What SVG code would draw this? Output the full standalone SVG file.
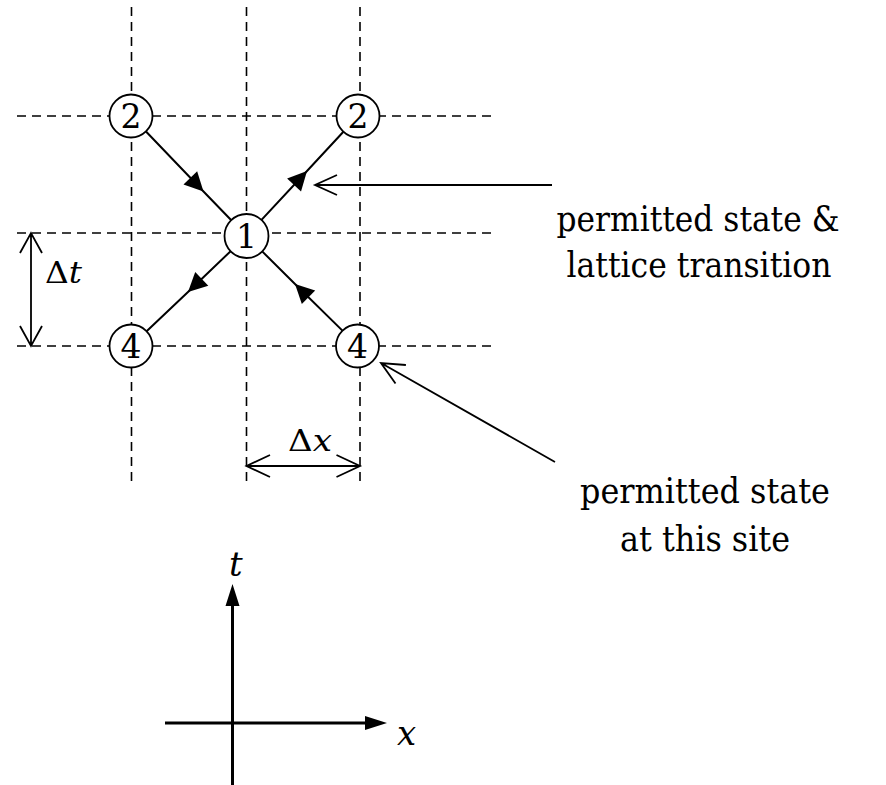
<svg xmlns="http://www.w3.org/2000/svg" width="886" height="785" viewBox="0 0 886 785">
<style>
.grid{stroke:#000;stroke-width:1.6;stroke-dasharray:9,6;fill:none}
.tr{stroke:#000;stroke-width:2;fill:none}
.ln{stroke:#000;stroke-width:1.8;fill:none}
.ax{stroke:#000;stroke-width:3;fill:none}
.node circle{fill:#fff;stroke:#000;stroke-width:1.8}
text{font-family:'DejaVu Serif','Liberation Serif',serif;fill:#000}
.node text{font-size:33px;text-anchor:middle}
.lbl{font-size:36px;text-anchor:middle}
.sym{font-size:30px}
.var{font-size:34px;font-style:italic}
.it{font-style:italic}
</style>
<defs>
<marker id="tri" markerUnits="userSpaceOnUse" viewBox="-22 -11 23 22" markerWidth="23" markerHeight="22" refX="0" refY="0" orient="auto" overflow="visible">
<path d="M0,0 L-19,-9.5 L-19,9.5 Z" fill="#000"/>
</marker>
</defs>
<g id="grid">
<path class="grid" d="M131.5,7 V483 M246.5,7 V483 M360,7 V483 M17,116 H495 M17,233 H495 M17,346 H495"/>
</g>
<g id="connectors">
<path class="tr" marker-mid="url(#tri)" d="M146,131.5 L203.5,191.5 L231.3,220.2"/>
<path class="tr" marker-mid="url(#tri)" d="M261.5,219.9 L307,171 L343.4,131.8"/>
<path class="tr" marker-mid="url(#tri)" d="M230.6,251.2 L188,292 L146.6,331.2"/>
<path class="tr" marker-mid="url(#tri)" d="M342.7,330.9 L295,284 L262.2,251.4"/>
<path class="ln" d="M552,185 H315 M337,175 L315,185 L337,195"/>
<path class="ln" d="M555,462 L381,363 M405.9,365 L381,363 L395.5,383.4"/>
<path class="ln" d="M246.5,466 H360 M270,455 L246.5,466 L270,477 M336.5,455 L360,466 L336.5,477"/>
<path class="ln" d="M31,233 V346 M20,253 L31,233 L42,253 M20,326 L31,346 L42,326"/>
</g>
<g id="n2l" class="node"><circle cx="131" cy="116" r="21.5"/><text x="131" y="128">2</text></g>
<g id="n2r" class="node"><circle cx="358" cy="116" r="21.5"/><text x="358" y="128">2</text></g>
<g id="n1" class="node"><circle cx="246.5" cy="236" r="22"/><text x="246.5" y="248">1</text></g>
<g id="n4l" class="node"><circle cx="131" cy="346" r="21.5"/><text x="131" y="358">4</text></g>
<g id="n4r" class="node"><circle cx="357.5" cy="346" r="21.5"/><text x="357.5" y="358">4</text></g>
<g id="dims">
<text class="sym" x="45" y="283" textLength="37" lengthAdjust="spacingAndGlyphs">Δ<tspan class="it">t</tspan></text>
<text class="sym" x="288" y="451" textLength="44" lengthAdjust="spacingAndGlyphs">Δ<tspan class="it">x</tspan></text>
</g>
<g id="label1">
<text class="lbl" x="698" y="231" textLength="283" lengthAdjust="spacingAndGlyphs">permitted state &amp;</text>
<text class="lbl" x="699" y="277" textLength="265" lengthAdjust="spacingAndGlyphs">lattice transition</text>
</g>
<g id="label2">
<text class="lbl" x="705" y="503" textLength="250" lengthAdjust="spacingAndGlyphs">permitted state</text>
<text class="lbl" x="705" y="551" textLength="170" lengthAdjust="spacingAndGlyphs">at this site</text>
</g>
<g id="axes">
<path class="ax" d="M232.5,785 V604 M165,723 H367"/>
<path d="M232.5,584 L225.5,606 L239.5,606 Z M387,723 L365,716 L365,730 Z" fill="#000"/>
<text class="var" x="229" y="576">t</text>
<text class="var" x="397" y="745">x</text>
</g>
</svg>
